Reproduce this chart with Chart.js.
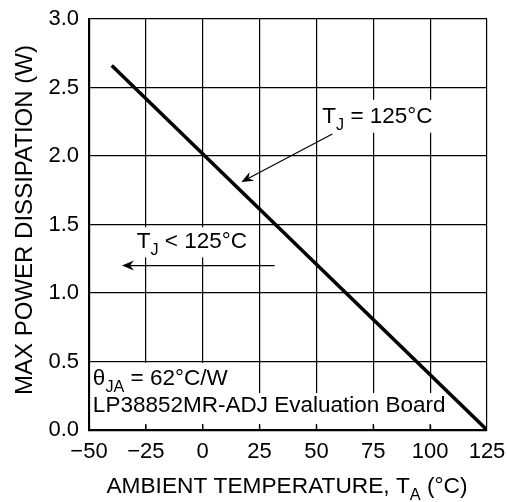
<!DOCTYPE html>
<html>
<head>
<meta charset="utf-8">
<script src="https://cdn.jsdelivr.net/npm/chart.js@4/dist/chart.umd.min.js"></script>
<style>
  body { margin: 0; background: #fff; }
</style>
</head>
<body>
<canvas id="chart" width="507" height="502"></canvas>
<script>
// derating curve, theta JA = 62 C/W
const temps = [-40, 125];
const power = [2.66, 0];
const xTicks = [-50, -25, 0, 25, 50, 75, 100, 125];
const yTicks = [0, 0.5, 1.0, 1.5, 2.0, 2.5, 3.0];

// annotation texts, [x, y] of the text start in data units
const noteTj = [[['T'], ['J', true], [' = 125°C']], 52.6, 2.24];
const noteTjLess = [[['T'], ['J', true], [' < 125°C']], -29, 1.33];
const noteTheta = [[['θ'], ['JA', true], [' = 62°C/W']], -48.3, 0.33];
const noteBoard = [[['LP38852MR-ADJ Evaluation Board']], -48.3, 0.13];
// white boxes behind the texts [x0, x1, y0, y1]
const boxes = [
    [51.3, 104, 2.41, 2.17],
    [-30.7, 20.6, 1.48, 1.26],
    [-50, 16, 0.49, 0.27],
    [-50, 109, 0.27, 0.035]
];
// arrows [fromX, fromY, toX, toY]
const arrows = [
    [57, 2.16, 17, 1.81],
    [31.6, 1.2, -35.5, 1.2]
];

const FONT = '"Liberation Sans", Arial, sans-serif';
const font = (px) => px + 'px ' + FONT;

function richWidth(ctx, parts, size) {
    let w = 0;
    parts.forEach(([t, sub]) => {
        ctx.font = font(sub ? size * 0.72 : size);
        w += ctx.measureText(t).width;
    });
    return w;
}

function richText(ctx, parts, x, y, size) {
    parts.forEach(([t, sub]) => {
        ctx.font = font(sub ? size * 0.72 : size);
        ctx.fillText(t, x, sub ? y + size * 0.3 : y);
        x += ctx.measureText(t).width;
    });
}

const extras = {
    id: 'extras',
    beforeDatasetsDraw(chart) {
        const {ctx, chartArea: a, scales: {x, y}} = chart;
        ctx.save();
        ctx.fillStyle = '#fff';
        boxes.forEach(([x0, x1, y0, y1]) => {
            const l = Math.max(x.getPixelForValue(x0), a.left + 1.5);
            const t = y.getPixelForValue(y0);
            ctx.fillRect(l, t, x.getPixelForValue(x1) - l, y.getPixelForValue(y1) - t);
        });
        // small inside ticks on the bottom edge
        ctx.strokeStyle = '#000';
        ctx.lineWidth = 1.3;
        xTicks.slice(1, -1).forEach(v => {
            const px = x.getPixelForValue(v);
            ctx.beginPath();
            ctx.moveTo(px, a.bottom);
            ctx.lineTo(px, a.bottom - 6);
            ctx.stroke();
        });
        ctx.restore();
    },
    afterDatasetsDraw(chart) {
        const {ctx, scales: {x, y}} = chart;
        ctx.save();
        ctx.fillStyle = '#000';
        ctx.strokeStyle = '#000';
        ctx.textBaseline = 'alphabetic';
        ctx.textAlign = 'left';
        [noteTj, noteTjLess, noteTheta, noteBoard].forEach(([parts, vx, vy]) => {
            richText(ctx, parts, x.getPixelForValue(vx), y.getPixelForValue(vy), 22.5);
        });
        arrows.forEach(([x0, y0, x1, y1]) => {
            const ax = x.getPixelForValue(x0), ay = y.getPixelForValue(y0);
            const bx = x.getPixelForValue(x1), by = y.getPixelForValue(y1);
            const ang = Math.atan2(by - ay, bx - ax);
            ctx.lineWidth = 1.2;
            ctx.beginPath();
            ctx.moveTo(ax, ay);
            ctx.lineTo(bx - 6 * Math.cos(ang), by - 6 * Math.sin(ang));
            ctx.stroke();
            ctx.save();
            ctx.translate(bx, by);
            ctx.rotate(ang);
            ctx.beginPath();
            ctx.moveTo(0, 0);
            ctx.lineTo(-12, -5);
            ctx.lineTo(-8, 0);
            ctx.lineTo(-12, 5);
            ctx.closePath();
            ctx.fill();
            ctx.restore();
        });
        // axis titles
        const xt = [['AMBIENT TEMPERATURE, T'], ['A', true], [' (°C)']];
        const w = richWidth(ctx, xt, 22.7);
        richText(ctx, xt, 287 - w / 2, 493, 22.7);
        ctx.translate(32, 220);
        ctx.rotate(-Math.PI / 2);
        ctx.font = font(24);
        ctx.textAlign = 'center';
        ctx.fillText('MAX POWER DISSIPATION (W)', 0, 0);
        ctx.restore();
    }
};

new Chart(document.getElementById('chart'), {
    type: 'line',
    data: {
        datasets: [{
            data: temps.map((t, i) => ({x: t, y: power[i]})),
            borderColor: '#000',
            borderWidth: 3.5,
            pointRadius: 0,
            tension: 0
        }]
    },
    options: {
        responsive: false,
        animation: false,
        layout: {padding: {top: 19, right: 20, left: 0, bottom: 0}},
        plugins: {legend: {display: false}, tooltip: {enabled: false}},
        scales: {
            x: {
                type: 'linear',
                min: -50,
                max: 125,
                afterBuildTicks: s => { s.ticks = xTicks.map(v => ({value: v})); },
                afterFit: s => { s.height = 72; s.paddingLeft = 0; s.paddingRight = 0; },
                grid: {color: '#000', lineWidth: 1.2, drawTicks: false},
                border: {color: '#000', width: 2.2},
                ticks: {
                    color: '#000',
                    font: {family: FONT, size: 22},
                    padding: 9,
                    maxRotation: 0,
                    callback: v => String(v).replace('-', '\u2212')
                }
            },
            y: {
                min: 0,
                max: 3,
                afterBuildTicks: s => { s.ticks = yTicks.map(v => ({value: v})); },
                afterFit: s => { s.width = 89; s.paddingTop = 0; s.paddingBottom = 0; },
                grid: {color: '#000', lineWidth: 1.2, drawTicks: false},
                border: {color: '#000', width: 2.2},
                ticks: {
                    color: '#000',
                    font: {family: FONT, size: 22},
                    padding: 10,
                    callback: v => v.toFixed(1)
                }
            }
        }
    },
    plugins: [extras]
});
</script>
</body>
</html>
